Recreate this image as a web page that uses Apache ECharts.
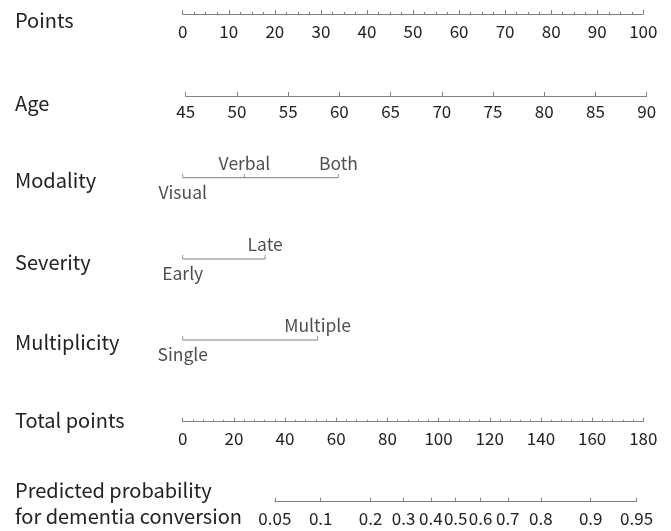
<!DOCTYPE html>
<html><head><meta charset="utf-8">
<script src="https://cdn.jsdelivr.net/npm/echarts@6/dist/echarts.min.js"></script>
<style>html,body{margin:0;padding:0;background:#fff}#c{width:671px;height:531px}</style>
</head><body><div id="c"></div>
<script>
var rowTitles = ['Points', 'Age', 'Modality', 'Severity', 'Multiplicity', 'Total points', 'Predicted probability\nfor dementia conversion'];
var ageTicks = [45, 50, 55, 60, 65, 70, 75, 80, 85, 90];
var modalityLevels = ['Visual', 'Verbal', 'Both'];
var modalityPoints = [0, 13.4, 33.8];
var modalityAbove = [false, true, true];
var severityLevels = ['Early', 'Late'];
var severityPoints = [0, 17.9];
var severityAbove = [false, true];
var multiplicityLevels = ['Single', 'Multiple'];
var multiplicityPoints = [0, 29.3];
var multiplicityAbove = [false, true];
var probTicks = ['0.05', '0.1', '0.2', '0.3', '0.4', '0.5', '0.6', '0.7', '0.8', '0.9', '0.95'];

var FONT = 'Noto Sans CJK SC';
var TXT = '#222222';
var LINE = '#808080';
var LBL = 17;
function logit(p){ return Math.log(p/(1-p)); }

var titleY = [9, 92, 169, 251, 331, 409, 477];
var titles = rowTitles.map(function(t, i){
  return {text: t, left: 15, top: titleY[i], padding: 0,
    textStyle: {fontFamily: FONT, fontSize: 20, fontWeight: 'normal', color: TXT, lineHeight: i === 6 ? 26 : 22}};
});

var grids = [], xAxes = [], yAxes = [], series = [];
function addGrid(axisY, left, width){
  grids.push({left: left, width: width, top: axisY - 10, height: 20});
  yAxes.push({gridIndex: grids.length - 1, type: 'value', min: -1, max: 1, show: false});
  return grids.length - 1;
}
function numAxis(gi, min, max, interval, minorSplit, margin, extra){
  var ax = {gridIndex: gi, type: 'value', min: min, max: max, interval: interval, position: 'bottom', offset: -10,
    axisLine: {show: true, lineStyle: {color: LINE, width: 1}},
    axisTick: {show: true, inside: true, length: 4, lineStyle: {color: LINE}},
    minorTick: {show: minorSplit > 0, splitNumber: minorSplit || 5, length: 2, lineStyle: {color: LINE}},
    splitLine: {show: false}, minorSplitLine: {show: false},
    axisLabel: {show: true, margin: margin, fontFamily: FONT, fontSize: LBL, color: TXT, showMinLabel: true, showMaxLabel: true}
  };
  for (var k in extra) ax[k] = extra[k];
  xAxes.push(ax);
  series.push({type: 'line', xAxisIndex: xAxes.length - 1, yAxisIndex: gi, data: [], silent: true});
}

// Points
var g0 = addGrid(14, 182.7, 460.6);
numAxis(g0, 0, 100, 10, 4, 9);
// Age
var g1 = addGrid(96, 185.7, 461);
numAxis(g1, 45, 90, 5, 0, 7);
// Total points
var g5 = addGrid(421.7, 182.7, 460.6);
numAxis(g5, 0, 180, 20, 5, 8);
// Probability (logit scale)
var probVals = probTicks.map(function(p){ return logit(parseFloat(p)); });
var g6 = addGrid(501.7, 274.8, 361.8);
numAxis(g6, logit(0.05), logit(0.95), null, 0, 8, {
  interval: undefined,
  axisTick: {show: true, inside: true, length: 4, lineStyle: {color: LINE}, customValues: probVals},
  axisLabel: {show: true, margin: 8, fontFamily: FONT, fontSize: LBL, color: TXT, customValues: probVals, hideOverlap: false,
    formatter: function(v){
      var best = 0, bd = 1e9;
      probVals.forEach(function(pv, i){ var d = Math.abs(pv - v); if (d < bd){ bd = d; best = i; } });
      return probTicks[best];
    }}
});

// Categorical rows on the points scale
function catRow(axisY, levels, pts, above){
  var gi = addGrid(axisY, 182.7, 460.6);
  xAxes.push({gridIndex: gi, type: 'value', min: 0, max: 100, show: false});
  var xi = xAxes.length - 1;
  var maxP = Math.max.apply(null, pts);
  series.push({type: 'line', xAxisIndex: xi, yAxisIndex: gi, data: [[0, 0], [maxP, 0]], symbol: 'none', silent: true,
    lineStyle: {color: LINE, width: 1}});
  series.push({type: 'scatter', xAxisIndex: xi, yAxisIndex: gi, silent: true,
    symbol: 'rect', symbolSize: [1, 4], symbolOffset: [0, -2], itemStyle: {color: LINE},
    data: levels.map(function(l, i){
      return {value: [pts[i], 0], name: l,
        label: {show: true, formatter: l, position: above[i] ? 'top' : 'bottom', distance: above[i] ? 2 : 6,
          fontFamily: FONT, fontSize: 17.5, color: TXT}};
    })});
}
catRow(177.7, modalityLevels, modalityPoints, modalityAbove);
catRow(259, severityLevels, severityPoints, severityAbove);
catRow(340, multiplicityLevels, multiplicityPoints, multiplicityAbove);

var chart = echarts.init(document.getElementById('c'), null, {renderer: 'canvas'});
chart.setOption({animation: false, backgroundColor: '#fff', title: titles, grid: grids, xAxis: xAxes, yAxis: yAxes, series: series});
</script></body></html>
